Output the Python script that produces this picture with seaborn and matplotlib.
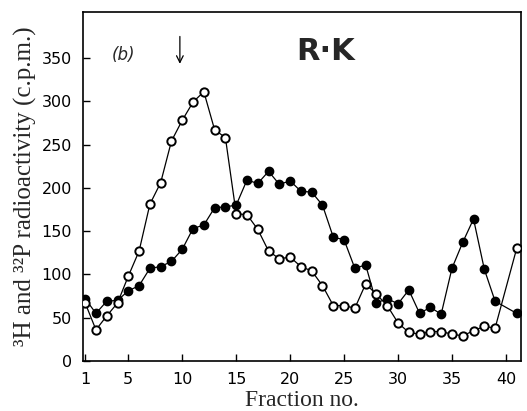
import numpy as np
import pandas as pd
import matplotlib
matplotlib.use("Agg")
import matplotlib.pyplot as plt
import seaborn as sns

# Open circles (3H)
open_fraction = [1, 2, 3, 4, 5, 6, 7, 8, 9, 10, 11, 12, 13, 14, 15, 16, 17, 18, 19, 20,
                 21, 22, 23, 24, 25, 26, 27, 28, 29, 30, 31, 32, 33, 34, 35, 36, 37, 38, 39, 41]
open_cpm = [67, 36, 52, 67, 98, 127, 181, 206, 254, 278, 299, 311, 267, 258, 170, 169, 152, 127, 118, 120,
            109, 104, 87, 64, 64, 61, 89, 77, 64, 44, 33, 31, 34, 34, 31, 29, 35, 40, 38, 130]

# Filled circles (32P)
filled_fraction = [1, 2, 3, 4, 5, 6, 7, 8, 9, 10, 11, 12, 13, 14, 15, 16, 17, 18, 19, 20,
                   21, 22, 23, 24, 25, 26, 27, 28, 29, 30, 31, 32, 33, 34, 35, 36, 37, 38, 39, 41]
filled_cpm = [72, 55, 69, 70, 81, 87, 107, 109, 115, 129, 153, 157, 177, 178, 180, 209, 205, 219, 204, 208,
              196, 195, 180, 143, 140, 107, 111, 67, 72, 66, 82, 55, 62, 54, 107, 137, 164, 106, 69, 55]

x_ticks = [1, 5, 10, 15, 20, 25, 30, 35, 40]
y_ticks = [0, 50, 100, 150, 200, 250, 300, 350]

sns.set_theme(style="ticks")
plt.rcParams['font.family'] = ['DejaVu Sans']

fig = plt.figure(figsize=(5.27, 4.11), dpi=100)
ax = fig.add_axes([0.1575, 0.1217, 0.8311, 0.849])

df_open = pd.DataFrame({"fraction": open_fraction, "cpm": open_cpm})
df_filled = pd.DataFrame({"fraction": filled_fraction, "cpm": filled_cpm})

sns.lineplot(data=df_filled, x="fraction", y="cpm", ax=ax, color="black", linewidth=0.9,
             marker="o", markersize=6, markerfacecolor="black", markeredgecolor="black",
             markeredgewidth=1.0, zorder=2)
sns.lineplot(data=df_open, x="fraction", y="cpm", ax=ax, color="black", linewidth=0.9,
             marker="o", markersize=6, markerfacecolor="white", markeredgecolor="black",
             markeredgewidth=1.4, zorder=3)

ax.set_xlim(0.8, 41.4)
ax.set_ylim(0, 403)
ax.set_xticks(x_ticks)
ax.set_xticklabels([str(t) for t in x_ticks])
ax.set_yticks(y_ticks)
ax.set_yticklabels([str(t) for t in y_ticks])
ax.tick_params(direction="in", length=5, width=1.0, pad=8, labelsize=11.5, colors="black")

for s in ax.spines.values():
    s.set_visible(True)
    s.set_color("black")
    s.set_linewidth(1.2)

ax.set_xlabel("Fraction no.", family="Liberation Serif", fontsize=17, labelpad=2)
ax.set_ylabel("³H and ³²P radioactivity (c.p.m.)", family="Liberation Serif", fontsize=18, labelpad=3)

ax.text(4.56, 353, "(b)", fontsize=12, style="italic", ha="center", va="center")
ax.annotate("", xy=(9.78, 340), xytext=(9.78, 378),
            arrowprops=dict(arrowstyle="->", color="black", lw=0.9))
ax.text(23.3, 358, "R·K", fontsize=22, fontweight="bold", ha="center", va="center")

fig.savefig("out.png", dpi=100)
